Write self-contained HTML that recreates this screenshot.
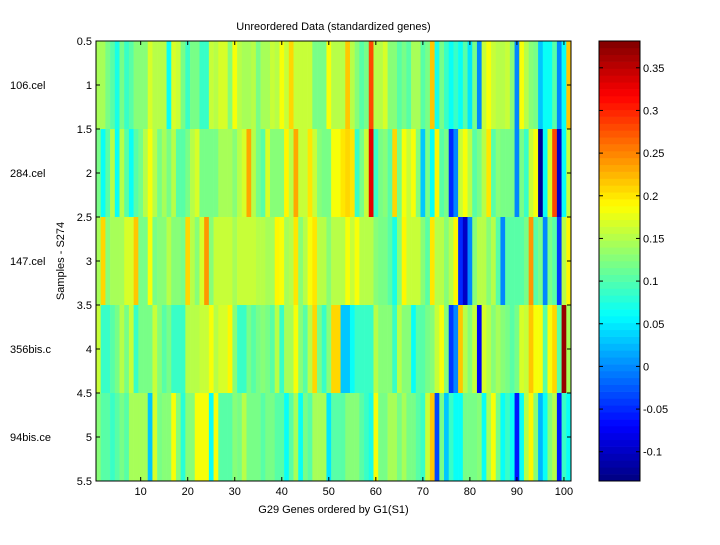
<!DOCTYPE html>
<html><head><meta charset="utf-8"><style>
body{margin:0;background:#fff;}
svg text{font-family:"Liberation Sans",sans-serif;font-size:11px;fill:#000;}
</style></head><body>
<svg id="chart" width="720" height="540" xmlns="http://www.w3.org/2000/svg">
<rect width="720" height="540" fill="#fff"/>
<g id="cells"></g>
<g id="cbar"></g>
<g id="axes"></g>
</svg>
<script>
const rowLabels = ["106.cel","284.cel","147.cel","356bis.c","94bis.ce"];
const xTicks = [10,20,30,40,50,60,70,80,90,100];
const yTicks = [0.5,1,1.5,2,2.5,3,3.5,4,4.5,5,5.5];
const cTicks = [-0.1,-0.05,0,0.05,0.1,0.15,0.2,0.25,0.3,0.35];
const row1 = [.14,.14,.12,.1,.07,.12,.09,.1,.13,.13,.13,.17,.15,.15,.15,.06,.17,.16,.12,.09,.12,.12,.09,.09,.16,
 .15,.17,.17,.13,.18,.15,.14,.14,.15,.12,.14,.14,.16,.15,.18,.16,.21,.16,.16,.16,.16,.12,.12,.12,.18,
 .15,.15,.15,.22,.15,.13,.1,.12,.28,.15,.15,.17,.13,.13,.1,.12,.1,.14,.14,.1,.12,.22,.07,.12,.09,
 .06,.09,.06,.1,.05,.12,0,.16,.18,.16,.15,.15,.16,.13,0,.18,.15,.13,.12,.03,.06,.06,.1,0,.06,.22];
const row2 = [.12,.06,.1,.15,.06,.15,.1,.06,.1,.12,.15,.18,.15,.12,.14,.12,.15,.1,.1,.12,.15,.17,.12,.12,.12,
 .12,.14,.14,.14,.13,.15,.17,.23,.15,.12,.1,.17,.13,.13,.13,.19,.15,.23,.16,.16,.2,.16,.13,.12,.12,
 .18,.18,.2,.21,.2,.09,.12,.16,.33,.09,.12,.13,.1,.21,.12,.18,.16,.18,.13,.03,.12,.06,.19,.1,.12,
 -.05,0,.16,.18,.15,.1,.12,.15,.2,.1,.13,.12,.12,.12,0,.12,.09,.16,.18,-.12,.06,.17,.28,-.1,.06,.16];
const row3 = [.14,.21,.13,.14,.14,.14,.17,.17,.22,.12,.12,.18,.12,.13,.13,.15,.13,.13,.12,.21,.15,.13,.17,.24,.13,
 .16,.16,.16,.16,.14,.16,.16,.16,.16,.15,.15,.14,.14,.19,.18,.14,.15,.2,.13,.15,.18,.2,.15,.15,.13,
 .15,.15,.15,.18,.16,.18,.15,.15,.15,.13,.12,.12,.1,.07,.13,.19,.16,.16,.16,.13,.1,.2,.15,.15,.13,
 .15,.19,-.05,-.1,0,.13,.15,.15,.13,.15,.1,0,.1,.1,.1,.1,.12,.24,.1,.12,0,.12,.1,-.04,.15,.19];
const row4 = [.16,.09,.09,.1,.12,.15,.12,.16,.09,.12,.12,.12,.16,.13,.1,.12,.09,.09,.09,.15,.15,.15,.16,.16,.18,
 .15,.17,.17,.19,.13,.09,.09,.12,.1,.12,.13,.12,.1,.15,.09,.14,.14,.18,.13,.1,.15,.21,.12,.09,.13,
 .21,.21,.03,.03,.06,.09,.09,.09,.09,.15,.13,.13,.13,.09,.15,.13,.13,.06,.1,.1,.12,.13,.16,.18,.13,
 -.04,0,.22,.15,.13,.16,-.07,.17,.15,.13,.14,.13,.12,.1,.12,.17,.16,.22,.18,.18,.1,.18,.21,.1,.37,.14];
const row5 = [.13,.1,.1,.09,.1,.12,.1,.14,.14,.14,.14,.03,.17,.12,.13,.13,.18,.13,.08,.13,.13,.18,.18,.18,.06,
 .18,.1,.1,.1,.13,.12,.15,.12,.12,.12,.1,.12,.12,.1,.1,.06,.1,.14,.06,.12,.1,.14,.14,.14,.05,
 .1,.1,.1,.13,.13,.13,.1,.09,.07,.18,.12,.12,.14,.14,.12,.14,.12,.12,.1,.09,.16,.22,-.03,.12,.03,
 .09,.06,.06,.12,.12,.12,.13,.06,.14,.18,.12,.06,.09,.06,-.06,.06,.15,.19,.13,.02,.06,.13,.15,-.06,.09,.06];
const rows = [row1,row2,row3,row4,row5];

const NS="http://www.w3.org/2000/svg";
const PL=96,PR=571,PT=41,PB=481, CL=599,CR=640;
const VMIN=-0.1343, VMAX=0.3814;
const nCols=row1.length;
const xs=v=>PL+(v-0.5)*(PR-PL)/nCols;
const ys=v=>PT+(v-0.5)*(PB-PT)/rows.length;
const cs=v=>PB-(v-VMIN)/(VMAX-VMIN)*(PB-PT);
function jet(v){
  let t=(v-VMIN)/(VMAX-VMIN); t=Math.max(0,Math.min(1,t));
  t=(Math.floor(t*63.999)+0.5)/64;
  const f=x=>Math.max(0,Math.min(1,x));
  const r=f(1.5-Math.abs(4*t-3)), g=f(1.5-Math.abs(4*t-2)), b=f(1.5-Math.abs(4*t-1));
  return `rgb(${Math.round(r*255)},${Math.round(g*255)},${Math.round(b*255)})`;
}
function mk(tag,attrs,parent){const e=document.createElementNS(NS,tag);for(const k in attrs)e.setAttribute(k,attrs[k]);parent.appendChild(e);return e;}
const cells=document.getElementById('cells');
rows.forEach((row,ri)=>{row.forEach((v,ci)=>{
  const r=mk('rect',{x:xs(ci+0.5),y:ys(ri+0.5),width:xs(ci+1.5)-xs(ci+0.5)+0.3,height:ys(ri+1.5)-ys(ri+0.5),fill:jet(v)},cells);
  
  
});});
const cbar=document.getElementById('cbar');
for(let i=0;i<64;i++){
  const v0=VMIN+i*(VMAX-VMIN)/64, v1=VMIN+(i+1)*(VMAX-VMIN)/64;
  const r=mk('rect',{x:CL,y:cs(v1),width:CR-CL,height:cs(v0)-cs(v1)+0.3,fill:jet((v0+v1)/2)},cbar);
  
  
}
const ax=document.getElementById('axes');
mk('rect',{x:PL,y:PT,width:PR-PL,height:PB-PT,fill:'none',stroke:'#000','stroke-width':1},ax);
mk('rect',{x:CL,y:PT,width:CR-CL,height:PB-PT,fill:'none',stroke:'#000','stroke-width':1},ax);
xTicks.forEach(t=>{const x=xs(t);
  mk('line',{x1:x,x2:x,y1:PB,y2:PB-4,stroke:'#000'},ax);mk('line',{x1:x,x2:x,y1:PT,y2:PT+4,stroke:'#000'},ax);
  const tx=mk('text',{x:x,y:PB+14,'text-anchor':'middle'},ax);tx.textContent=t;
  
  
});
yTicks.forEach(t=>{const y=ys(t);
  mk('line',{x1:PL,x2:PL+4,y1:y,y2:y,stroke:'#000'},ax);mk('line',{x1:PR,x2:PR-4,y1:y,y2:y,stroke:'#000'},ax);
  const tx=mk('text',{x:PL-4,y:y+4,'text-anchor':'end'},ax);tx.textContent=t;
  
  
});
rowLabels.forEach((l,i)=>{
  const tx=mk('text',{x:10,y:ys(i+1)+4},ax);tx.textContent=l;
  
  
});
cTicks.forEach(t=>{const y=cs(t);
  mk('line',{x1:CL,x2:CL+4,y1:y,y2:y,stroke:'#000'},ax);mk('line',{x1:CR,x2:CR-4,y1:y,y2:y,stroke:'#000'},ax);
  const tx=mk('text',{x:CR+3,y:y+4},ax);tx.textContent=t;
  
  
});
const title=mk('text',{x:(PL+PR)/2,y:30,'text-anchor':'middle'},ax);title.textContent='Unreordered Data (standardized genes)';


const xt=mk('text',{x:(PL+PR)/2,y:513,'text-anchor':'middle'},ax);xt.textContent='G29 Genes ordered by G1(S1)';


const yt=mk('text',{x:0,y:0,'text-anchor':'middle',transform:`translate(64,${(PT+PB)/2}) rotate(-90)`},ax);yt.textContent='Samples - S274';


</script>
</body></html>
